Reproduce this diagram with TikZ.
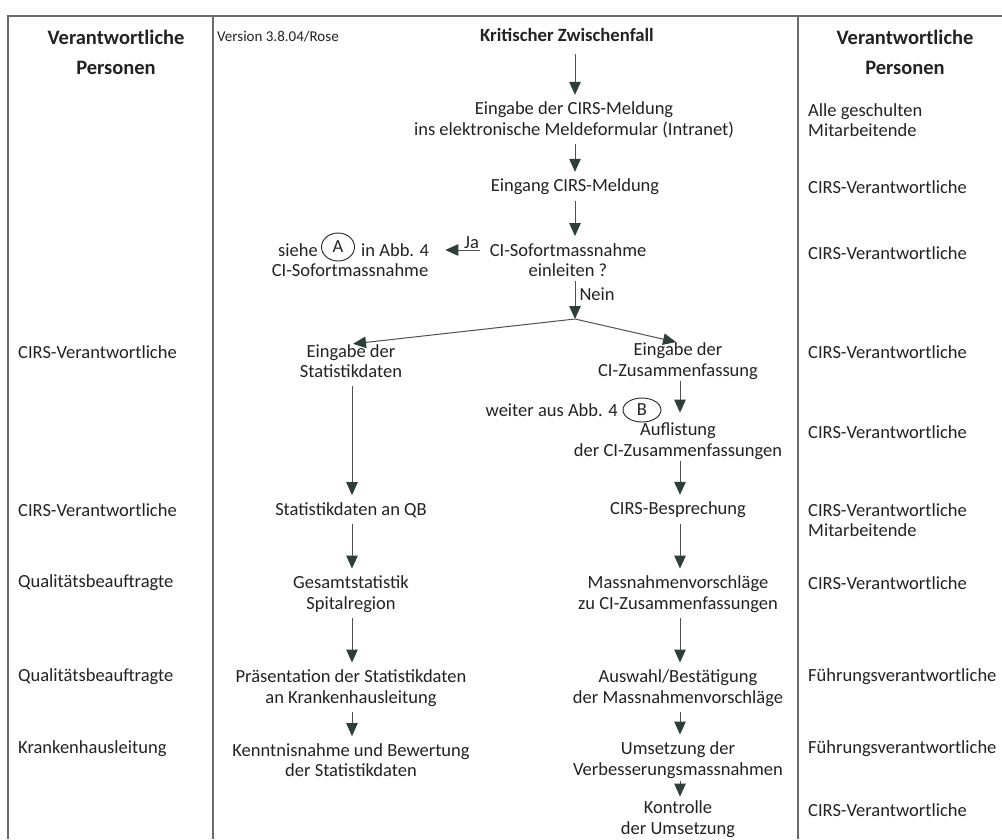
\documentclass[tikz,border=0pt]{standalone}
\usepackage{fontspec}
\setmainfont{Carlito}
\usetikzlibrary{arrows.meta,shapes.geometric}
\definecolor{ink}{HTML}{222222}
\definecolor{rule}{HTML}{6A6A6A}
\definecolor{shaft}{HTML}{505050}
\definecolor{tipc}{HTML}{2E3E39}
\begin{document}
\begin{tikzpicture}[x=1pt,y=-1pt,
  txt/.style={font=\fontsize{18.5}{20.5}\selectfont, text=ink, align=center, inner sep=0pt},
  lefttxt/.style={txt, align=left, anchor=west},
  head/.style={font=\fontsize{20.5}{30}\selectfont\bfseries, text=ink, align=center, inner sep=0pt},
  circ/.style={txt, draw=ink, ellipse, line width=0.9pt, inner sep=0pt},
  arr/.style={draw=shaft, line width=1pt,
    -{Triangle[width=11.5pt,length=13pt,fill=tipc,color=tipc]},
    shorten <=6pt, shorten >=7pt},
  frame/.style={draw=rule, line width=1.4pt}]
\useasboundingbox (0,0) rectangle (1002,839);

% table frame and column dividers
\draw[frame] (8,839) -- (8,16) -- (1002,16);
\draw[frame] (213,16) -- (213,839);
\draw[frame] (798,16) -- (798,839);

% headers
\node[head] (hl) at (116,52) {Verantwortliche\\Personen};
\node[head] (hr) at (905,52) {Verantwortliche\\Personen};
\node[font=\fontsize{15}{18}\selectfont, text=ink, anchor=west, inner sep=0pt] (ver) at (217,37) {Version 3.8.04/Rose};
\node[font=\fontsize{18.7}{22}\selectfont\bfseries, text=ink, inner sep=0pt] (krit) at (567,35) {Kritischer Zwischenfall};

% arrow columns
\coordinate (colL) at (352,0);
\coordinate (colM) at (575,0);
\coordinate (colR) at (680,0);

% main flow
\node[txt] (eing) at (574,120) {Eingabe der CIRS-Meldung\\ins elektronische Meldeformular (Intranet)};
\node[txt] (eingang) at (575,187) {Eingang CIRS-Meldung};
\node[txt] (sofort) at (568,260) {CI-Sofortmassnahme\\einleiten ?};
\node[circ, minimum width=33pt, minimum height=28pt] (A) at (338,247) {A};
\node[txt, anchor=east] (siehe) at (318,250) {siehe};
\node[txt, anchor=west] (inabb) at (361,250) {in Abb. 4};
\node[txt] (sofmass) at (350,270) {CI-Sofortmassnahme};
\coordinate (branch) at (575,319);

% left branch: statistics
\node[txt] (stat) at (351,361) {Eingabe der\\Statistikdaten};
\node[txt] (statqb) at (351,510) {Statistikdaten an QB};
\node[txt] (gesamt) at (351,594) {Gesamtstatistik\\Spitalregion};
\node[txt] (praes) at (351,688) {Präsentation der Statistikdaten\\an Krankenhausleitung};
\node[txt] (kennt) at (351,760) {Kenntnisnahme und Bewertung\\der Statistikdaten};

% right branch: summaries
\node[txt] (zus) at (678,361) {Eingabe der\\CI-Zusammenfassung};
\node[txt, anchor=east] (weiter) at (618,410) {weiter aus Abb. 4};
\node[circ, minimum width=38pt, minimum height=24pt] (B) at (642,410) {B};
\node[txt] (aufl) at (678,441) {Auflistung\\der CI-Zusammenfassungen};
\node[txt] (bespr) at (678,510) {CIRS-Besprechung};
\node[txt] (massv) at (678,594) {Massnahmenvorschläge\\zu CI-Zusammenfassungen};
\node[txt] (auswahl) at (678,688) {Auswahl/Bestätigung\\der Massnahmenvorschläge};
\node[txt] (umsetz) at (678,760) {Umsetzung der\\Verbesserungsmassnahmen};
\node[txt] (kontr) at (678,819) {Kontrolle\\der Umsetzung};

% left column: responsible persons
\node[lefttxt] (l1) at (18,352) {CIRS-Verantwortliche};
\node[lefttxt] (l2) at (18,510) {CIRS-Verantwortliche};
\node[lefttxt] (l3) at (18,583) {Qualitätsbeauftragte};
\node[lefttxt] (l4) at (18,677) {Qualitätsbeauftragte};
\node[lefttxt] (l5) at (18,749) {Krankenhausleitung};

% right column: responsible persons
\node[lefttxt] (r1) at (808,120) {Alle geschulten\\Mitarbeitende};
\node[lefttxt] (r2) at (808,187) {CIRS-Verantwortliche};
\node[lefttxt] (r3) at (808,253) {CIRS-Verantwortliche};
\node[lefttxt] (r4) at (808,352) {CIRS-Verantwortliche};
\node[lefttxt] (r5) at (808,432) {CIRS-Verantwortliche};
\node[lefttxt] (r6) at (808,520) {CIRS-Verantwortliche\\Mitarbeitende};
\node[lefttxt] (r7) at (808,583) {CIRS-Verantwortliche};
\node[lefttxt] (r8) at (808,677) {Führungsverantwortliche};
\node[lefttxt] (r9) at (808,749) {Führungsverantwortliche};
\node[lefttxt] (r10) at (808,810) {CIRS-Verantwortliche};

% connectors
\draw[arr, shorten <=12pt] (krit.south -| colM) -- (eing.north -| colM);
\draw[arr] (eing.south -| colM) -- (eingang.north -| colM);
\draw[arr] (eingang.south -| colM) -- (sofort.north -| colM);
\draw[arr, shorten <=10pt, shorten >=16pt] ([yshift=10pt]sofort.west) --
  node[pos=0.3, above=1pt, txt] {Ja} ([yshift=10pt]sofort.west -| inabb.east);
\draw[arr, shorten <=4pt, shorten >=0pt] (sofort.south -| colM) --
  node[pos=0.4, right=4pt, txt] {Nein} (branch);
\draw[arr, shorten <=0pt, shorten >=2pt] (branch) -- (stat.north);
\draw[arr, shorten <=0pt, shorten >=2pt] (branch) -- (zus.north);
\draw[arr, shorten <=8pt] (stat.south -| colL) -- (statqb.north -| colL);
\draw[arr] (statqb.south -| colL) -- (gesamt.north -| colL);
\draw[arr] (gesamt.south -| colL) -- (praes.north -| colL);
\draw[arr] (praes.south -| colL) -- (kennt.north -| colL);
\draw[arr, shorten <=2pt, shorten >=10pt] (zus.south -| colR) -- (aufl.north -| colR);
\draw[arr, shorten <=2pt] (aufl.south -| colR) -- (bespr.north -| colR);
\draw[arr] (bespr.south -| colR) -- (massv.north -| colR);
\draw[arr] (massv.south -| colR) -- (auswahl.north -| colR);
\draw[arr] (auswahl.south -| colR) -- (umsetz.north -| colR);
\draw[arr, shorten <=3pt, shorten >=4pt] (umsetz.south -| colR) -- (kontr.north -| colR);
\end{tikzpicture}
\end{document}
